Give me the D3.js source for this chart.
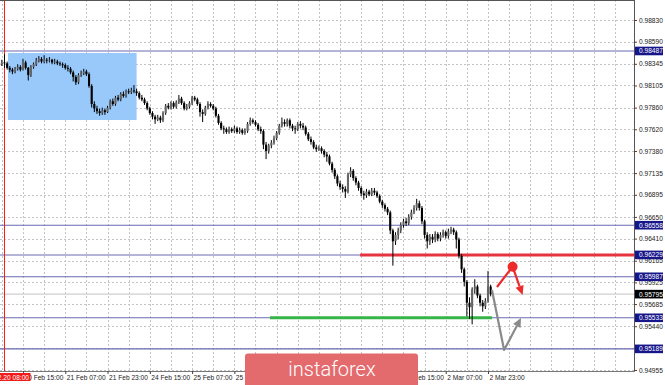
<!DOCTYPE html>
<html>
<head>
<meta charset="utf-8">
<script src="https://cdn.jsdelivr.net/npm/d3@7"></script>
<style>
  body { margin: 0; background: #fff; }
  svg { display: block; }
</style>
</head>
<body>
<svg id="chart" width="665" height="385"></svg>
<script>
// H1 bars, first one is 20 Feb 07:00 (bar -1), open of first bar below
const firstOpen = 0.9834;
const closes = [
  0.9836,0.9835,0.9830,0.9828,0.9826,0.9829,0.9831,0.9828,0.9836,0.9830,
  0.9822,0.9831,0.9834,0.9838,0.9840,0.9837,0.9839,0.9838,0.9839,0.9836,
  0.9837,0.9835,0.9834,0.9833,0.9830,0.9829,0.9825,0.9820,0.9814,0.9822,
  0.9824,0.9826,0.9823,0.9810,0.9790,0.9785,0.9782,0.9780,0.9783,0.9781,
  0.9786,0.9793,0.9790,0.9797,0.9795,0.9801,0.9799,0.9804,0.9803,0.9805,
  0.9804,0.9802,0.9797,0.9795,0.9791,0.9785,0.9780,0.9776,0.9773,0.9775,
  0.9772,0.9780,0.9788,0.9786,0.9791,0.9787,0.9792,0.9796,0.9791,0.9785,
  0.9787,0.9791,0.9797,0.9795,0.9790,0.9781,0.9779,0.9786,0.9790,0.9788,
  0.9785,0.9777,0.9769,0.9763,0.9762,0.9759,0.9762,0.9760,0.9763,0.9759,
  0.9761,0.9758,0.9760,0.9768,0.9772,0.9770,0.9767,0.9762,0.9760,0.9745,
  0.9738,0.9744,0.9747,0.9752,0.9758,0.9766,0.9770,0.9768,0.9772,0.9766,
  0.9763,0.9762,0.9768,0.9766,0.9764,0.9757,0.9751,0.9748,0.9742,0.9740,
  0.9741,0.9738,0.9734,0.9732,0.9724,0.9717,0.9710,0.9702,0.9698,0.9696,
  0.9693,0.9712,0.9716,0.9708,0.9703,0.9697,0.9691,0.9689,0.9693,0.9690,
  0.9694,0.9692,0.9688,0.9682,0.9678,0.9674,0.9670,0.9650,0.9638,0.9645,
  0.9650,0.9656,0.9660,0.9658,0.9665,0.9670,0.9675,0.9680,0.9675,0.9660,
  0.9645,0.9638,0.9643,0.9640,0.9646,0.9641,0.9645,0.9648,0.9644,0.9649,
  0.9651,0.9648,0.9640,0.9622,0.9607,0.9593,0.9570,0.9565,0.9585,0.9588,
  0.9578,0.9570,0.9566,0.9572,0.9588,0.95795
];
const highs = [
  0.9839,0.9845,0.9837,0.9832,0.9830,0.9831,0.9834,0.9833,0.9840,0.9838,
  0.9831,0.9833,0.9836,0.9841,0.9843,0.9842,0.9844,0.9841,0.9842,0.9840,
  0.9840,0.9839,0.9837,0.9836,0.9835,0.9833,0.9831,0.9827,0.9822,0.9824,
  0.9827,0.9829,0.9828,0.9825,0.9812,0.9793,0.9788,0.9785,0.9786,0.9785,
  0.9788,0.9795,0.9796,0.9799,0.9800,0.9803,0.9804,0.9806,0.9807,0.9808,
  0.9811,0.9807,0.9804,0.9800,0.9797,0.9793,0.9787,0.9782,0.9778,0.9778,
  0.9777,0.9782,0.9790,0.9791,0.9793,0.9793,0.9794,0.9800,0.9798,0.9793,
  0.9790,0.9793,0.9799,0.9799,0.9797,0.9792,0.9784,0.9788,0.9793,0.9792,
  0.9790,0.9787,0.9779,0.9771,0.9766,0.9764,0.9765,0.9764,0.9766,0.9765,
  0.9764,0.9763,0.9763,0.9770,0.9775,0.9774,0.9772,0.9769,0.9765,0.9762,
  0.9748,0.9746,0.9750,0.9755,0.9760,0.9768,0.9775,0.9773,0.9774,0.9774,
  0.9768,0.9766,0.9770,0.9771,0.9769,0.9766,0.9759,0.9754,0.9750,0.9745,
  0.9744,0.9743,0.9740,0.9737,0.9734,0.9726,0.9719,0.9712,0.9705,0.9701,
  0.9699,0.9714,0.9720,0.9718,0.9710,0.9705,0.9699,0.9694,0.9696,0.9695,
  0.9697,0.9697,0.9694,0.9690,0.9684,0.9680,0.9676,0.9672,0.9652,0.9648,
  0.9653,0.9659,0.9663,0.9664,0.9668,0.9673,0.9678,0.9685,0.9683,0.9677,
  0.9662,0.9648,0.9646,0.9646,0.9649,0.9648,0.9648,0.9651,0.9650,0.9652,
  0.9654,0.9653,0.9650,0.9642,0.9624,0.9609,0.9595,0.9576,0.9587,0.9596,
  0.9590,0.9580,0.9573,0.9575,0.9605,0.9590
];
const lows = [
  0.9832,0.9830,0.9828,0.9825,0.9823,0.9824,0.9827,0.9826,0.9827,0.9828,
  0.9816,0.9820,0.9829,0.9832,0.9836,0.9835,0.9835,0.9835,0.9836,0.9834,
  0.9834,0.9833,0.9832,0.9830,0.9828,0.9826,0.9823,0.9815,0.9811,0.9812,
  0.9820,0.9822,0.9821,0.9808,0.9786,0.9781,0.9779,0.9777,0.9778,0.9778,
  0.9780,0.9784,0.9788,0.9788,0.9793,0.9793,0.9797,0.9797,0.9801,0.9801,
  0.9802,0.9799,0.9795,0.9793,0.9789,0.9783,0.9778,0.9773,0.9768,0.9771,
  0.9769,0.9770,0.9778,0.9784,0.9784,0.9785,0.9785,0.9790,0.9789,0.9783,
  0.9783,0.9785,0.9789,0.9793,0.9788,0.9776,0.9770,0.9777,0.9784,0.9786,
  0.9783,0.9775,0.9767,0.9761,0.9757,0.9757,0.9757,0.9758,0.9758,0.9757,
  0.9757,0.9756,0.9756,0.9758,0.9766,0.9768,0.9765,0.9760,0.9757,0.9740,
  0.9729,0.9735,0.9741,0.9745,0.9750,0.9756,0.9764,0.9765,0.9765,0.9763,
  0.9760,0.9757,0.9760,0.9763,0.9761,0.9755,0.9749,0.9745,0.9740,0.9737,
  0.9738,0.9735,0.9731,0.9726,0.9722,0.9714,0.9707,0.9699,0.9695,0.9692,
  0.9686,0.9691,0.9709,0.9705,0.9700,0.9694,0.9688,0.9684,0.9686,0.9688,
  0.9688,0.9689,0.9686,0.9680,0.9675,0.9671,0.9667,0.9646,0.9611,0.9634,
  0.9640,0.9647,0.9653,0.9655,0.9656,0.9662,0.9668,0.9672,0.9672,0.9657,
  0.9641,0.9630,0.9634,0.9636,0.9637,0.9638,0.9638,0.9642,0.9641,0.9641,
  0.9646,0.9645,0.9630,0.9619,0.9603,0.9588,0.9555,0.9552,0.9546,0.9580,
  0.9575,0.9566,0.9560,0.9563,0.9570,0.9577
];

const priceTicks = [0.98830,0.98590,0.98345,0.98105,0.97860,0.97620,0.97380,0.97135,
  0.96895,0.96650,0.96410,0.96165,0.95925,0.95685,0.95440,0.95200,0.94955];
const timeTicks = [7,23,39,55,71,87,103,119,135,151,167,183];
const timeLabels = ["20 Feb 15:00","21 Feb 07:00","21 Feb 23:00","24 Feb 15:00","25 Feb 07:00",
  "25 Feb 23:00","26 Feb 15:00","27 Feb 07:00","27 Feb 23:00","28 Feb 15:00","2 Mar 07:00","2 Mar 23:00"];

const levels = [0.98487, 0.96558, 0.96229, 0.95987, 0.95533, 0.95189];
const bidPrice = 0.95795;
const separatorBar = 0;
const separatorLabel = "20.02.20 08:00";
// zone box [bar from, bar to, price top, price bottom]
const zone = [1.3, 50, 0.98465, 0.97723];
const resistance = {price: 0.96229, from: 134.6};
const support = {price: 0.95533, from: 100.5, to: 184.5};
const redArrow = [[186.4,0.95874],[192.3,0.96099],[196.1,0.95786]];
const grayArrow = [[184.5,0.95841],[189.1,0.95177],[195.5,0.95531]];

const W = 665, H = 385;
const plotR = 634, plotB = 371;
const font = '"Liberation Sans", Arial, sans-serif';

const svg = d3.select("#chart");
svg.append("rect").attr("width", W).attr("height", H).attr("fill", "#fff");

const x = d3.scaleLinear().domain([0, 183]).range([4.5, 488]);
const y = d3.scaleLinear().domain([0.94955, 0.98830]).range([370, 20]);
const step = x(1) - x(0);

svg.append("clipPath").attr("id", "plot")
  .append("rect").attr("width", plotR).attr("height", plotB);
const plot = svg.append("g").attr("clip-path", "url(#plot)");

// grid
plot.append("g").selectAll("line").data(priceTicks).join("line")
  .attr("x1", 0).attr("x2", plotR)
  .attr("y1", d => Math.round(y(d)) + 0.5).attr("y2", d => Math.round(y(d)) + 0.5)
  .attr("stroke", "#c4c4c4").attr("stroke-dasharray", "2,2");
plot.append("g").selectAll("line").data(d3.range(-1, 240, 8)).join("line")
  .attr("x1", d => Math.round(x(d)) + 0.5).attr("x2", d => Math.round(x(d)) + 0.5)
  .attr("y1", 0).attr("y2", plotB)
  .attr("stroke", "#c4c4c4").attr("stroke-dasharray", "2,2");

// zone rectangle
plot.append("rect")
  .attr("x", x(zone[0])).attr("width", x(zone[1]) - x(zone[0]))
  .attr("y", y(zone[2])).attr("height", y(zone[3]) - y(zone[2]))
  .attr("fill", "#99c9fb");

// horizontal levels
plot.append("g").selectAll("line").data(levels).join("line")
  .attr("x1", 0).attr("x2", plotR)
  .attr("y1", d => y(d)).attr("y2", d => y(d))
  .attr("stroke", "#6a6ab4").attr("stroke-width", 1.1);
plot.append("line").attr("x1", 0).attr("x2", plotR)
  .attr("y1", y(bidPrice)).attr("y2", y(bidPrice))
  .attr("stroke", "#cfcfcf").attr("stroke-width", 1.2);
plot.append("line").attr("x1", x(resistance.from)).attr("x2", plotR)
  .attr("y1", y(resistance.price)).attr("y2", y(resistance.price))
  .attr("stroke", "#e5333f").attr("stroke-width", 3);
plot.append("line").attr("x1", x(support.from)).attr("x2", x(support.to))
  .attr("y1", y(support.price)).attr("y2", y(support.price))
  .attr("stroke", "#36b447").attr("stroke-width", 3);

// period separator
plot.append("line").attr("x1", x(separatorBar)).attr("x2", x(separatorBar))
  .attr("y1", 0).attr("y2", plotB).attr("stroke", "#ff1a1a").attr("stroke-width", 1);

// candles
const bars = closes.map((c, i) => ({
  bar: i - 1,
  open: i === 0 ? firstOpen : closes[i - 1],
  high: highs[i], low: lows[i], close: c
}));
const cg = plot.append("g");
cg.selectAll("line").data(bars).join("line")
  .attr("x1", d => x(d.bar)).attr("x2", d => x(d.bar))
  .attr("y1", d => y(d.high)).attr("y2", d => y(d.low))
  .attr("stroke", "#000").attr("stroke-width", 1);
cg.selectAll("rect").data(bars).join("rect")
  .attr("x", d => x(d.bar) - step * 0.4).attr("width", step * 0.8)
  .attr("y", d => y(Math.max(d.open, d.close)))
  .attr("height", d => Math.max(0.8, Math.abs(y(d.open) - y(d.close))))
  .attr("fill", d => d.close >= d.open ? "#666" : "#000");

// arrows
function arrow(pts, color) {
  const p = pts.map(d => [x(d[0]), y(d[1])]);
  const a = p[p.length - 2], b = p[p.length - 1];
  const ang = Math.atan2(b[1] - a[1], b[0] - a[0]);
  const len = 9, hw = 4.2;
  const base = [b[0] - len * Math.cos(ang), b[1] - len * Math.sin(ang)];
  const line = p.slice(0, -1).concat([base]);
  plot.append("path").attr("d", d3.line()(line))
    .attr("fill", "none").attr("stroke", color).attr("stroke-width", 2.2)
    .attr("stroke-linejoin", "round");
  const left = [base[0] + hw * Math.sin(ang), base[1] - hw * Math.cos(ang)];
  const right = [base[0] - hw * Math.sin(ang), base[1] + hw * Math.cos(ang)];
  plot.append("path").attr("d", d3.line()([b, left, right]) + "Z").attr("fill", color);
  return p;
}
const rp = arrow(redArrow, "#ee2a2a");
plot.append("circle").attr("cx", rp[1][0]).attr("cy", rp[1][1]).attr("r", 5).attr("fill", "#ee2a2a");
arrow(grayArrow, "#8a8a8a");

// frame
svg.append("line").attr("x1", 0).attr("x2", plotR + 0.5).attr("y1", 0.5).attr("y2", 0.5)
  .attr("stroke", "#555");
svg.append("line").attr("x1", plotR + 0.5).attr("x2", plotR + 0.5).attr("y1", 0).attr("y2", plotB + 0.5)
  .attr("stroke", "#555");
svg.append("line").attr("x1", 0).attr("x2", plotR + 0.5).attr("y1", plotB + 0.5).attr("y2", plotB + 0.5)
  .attr("stroke", "#777");

// price axis
const yAxis = d3.axisRight(y).tickValues(priceTicks).tickFormat(d3.format(".5f"))
  .tickSize(3).tickPadding(2);
svg.append("g").attr("transform", `translate(${plotR},0)`).call(yAxis)
  .attr("font-family", font).attr("font-size", 6.6)
  .call(g => g.select(".domain").remove())
  .call(g => g.selectAll("line").attr("stroke", "#444"))
  .call(g => g.selectAll("text").attr("fill", "#222"));

// time axis
const xAxis = d3.axisBottom(x).tickValues(timeTicks).tickFormat((d, i) => timeLabels[i])
  .tickSize(3).tickPadding(1.5);
svg.append("g").attr("transform", `translate(0,${plotB})`).call(xAxis)
  .attr("font-family", font).attr("font-size", 6.6)
  .call(g => g.select(".domain").remove())
  .call(g => g.selectAll("line").attr("stroke", "#444"))
  .call(g => g.selectAll("text").attr("text-anchor", "start").attr("dx", 1).attr("fill", "#222"));

// separator label (partly off the left edge, as in the terminal)
const sep = svg.append("g");
sep.append("rect").attr("x", x(separatorBar) - 50).attr("y", 373).attr("width", 76).attr("height", 8)
  .attr("fill", "#f21b1b");
sep.append("text").attr("x", x(separatorBar) + 24.5).attr("y", 379.6)
  .attr("text-anchor", "end").attr("font-family", font).attr("font-size", 6.6)
  .attr("fill", "#fff").text(separatorLabel);

// price labels on axis
const tags = levels.map(v => ({v, bg: "#16168a"})).concat([{v: bidPrice, bg: "#000"}]);
const tg = svg.append("g").selectAll("g").data(tags).join("g")
  .attr("transform", d => `translate(${plotR + 1},${y(d.v)})`);
tg.append("rect").attr("x", 0).attr("y", -4.3).attr("width", 28).attr("height", 8.6)
  .attr("fill", d => d.bg);
tg.append("text").attr("x", 4).attr("y", 2.4)
  .attr("font-family", font).attr("font-size", 6.6).attr("fill", "#fff")
  .text(d => d3.format(".5f")(d.v));

// logo
const logo = svg.append("g");
logo.append("rect").attr("x", 245).attr("y", 353.5).attr("width", 173).attr("height", 40)
  .attr("rx", 3).attr("fill", "#e36a6d");
logo.append("text").attr("x", 332).attr("y", 376).attr("text-anchor", "middle")
  .attr("font-family", "Roboto, 'Open Sans', sans-serif").attr("font-weight", 300)
  .attr("font-size", 20).attr("fill", "#fff").text("instaforex");
</script>
</body>
</html>
